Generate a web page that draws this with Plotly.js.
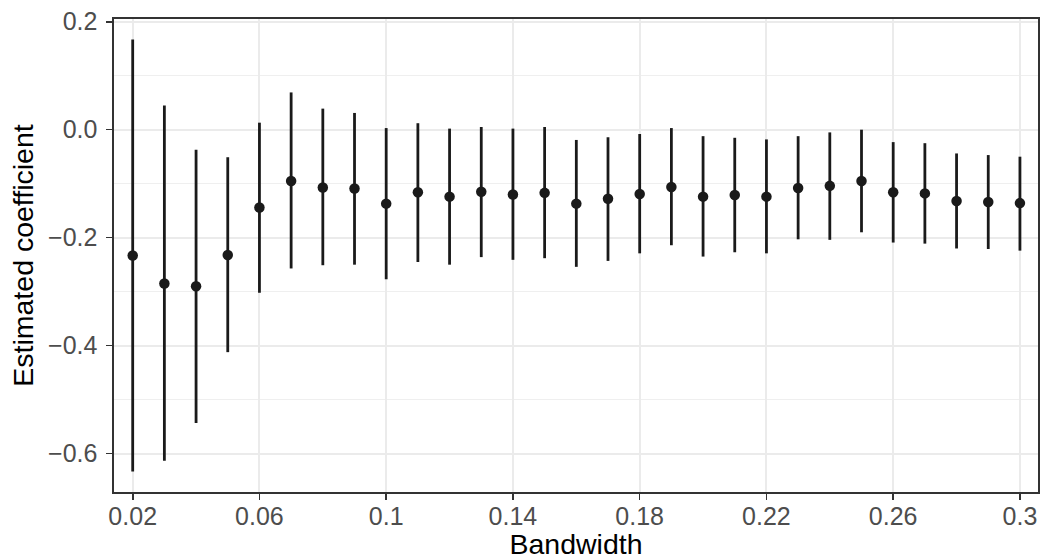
<!DOCTYPE html>
<html>
<head>
<meta charset="utf-8">
<script src="https://cdn.plot.ly/plotly-3.0.1.min.js"></script>
<style>
html,body{margin:0;padding:0;background:#fff;}
#chart{width:1042px;height:560px;}
</style>
</head>
<body>
<div id="chart"></div>
<script>
// Bandwidths (x)
const bandwidth = [0.02,0.03,0.04,0.05,0.06,0.07,0.08,0.09,0.10,0.11,0.12,0.13,0.14,0.15,0.16,0.17,0.18,0.19,0.20,0.21,0.22,0.23,0.24,0.25,0.26,0.27,0.28,0.29,0.30];
// Point estimates
const estimate = [-0.233,-0.285,-0.290,-0.232,-0.144,-0.095,-0.107,-0.109,-0.137,-0.116,-0.124,-0.115,-0.120,-0.117,-0.137,-0.128,-0.119,-0.106,-0.124,-0.121,-0.124,-0.108,-0.104,-0.095,-0.116,-0.118,-0.132,-0.134,-0.136];
// Upper confidence limits
const upper = [0.167,0.045,-0.037,-0.051,0.013,0.069,0.039,0.031,0.003,0.012,0.002,0.005,0.002,0.005,-0.019,-0.014,-0.008,0.003,-0.012,-0.015,-0.018,-0.012,-0.005,0.000,-0.023,-0.025,-0.044,-0.047,-0.050];
// Lower confidence limits
const lower = [-0.633,-0.613,-0.543,-0.412,-0.302,-0.257,-0.251,-0.250,-0.277,-0.245,-0.250,-0.236,-0.241,-0.238,-0.254,-0.243,-0.229,-0.214,-0.235,-0.227,-0.229,-0.203,-0.204,-0.190,-0.209,-0.211,-0.220,-0.221,-0.224];

const xTickVals = [0.02,0.06,0.10,0.14,0.18,0.22,0.26,0.30];
const xTickText = ["0.02","0.06","0.1","0.14","0.18","0.22","0.26","0.3"];
const yTickVals = [0.2,0.0,-0.2,-0.4,-0.6];
const yTickText = ["0.2","0.0","\u22120.2","\u22120.4","\u22120.6"];
const yMinorVals = [0.1,-0.1,-0.3,-0.5];

const errPlus = upper.map((u,i)=>u-estimate[i]);
const errMinus = lower.map((l,i)=>estimate[i]-l);

const trace = {
  type:'scatter',
  mode:'markers',
  x: bandwidth,
  y: estimate,
  marker:{color:'#1a1a1a', size:10.5},
  error_y:{type:'data', symmetric:false, array:errPlus, arrayminus:errMinus, width:0, thickness:2.8, color:'#1a1a1a'},
  hoverinfo:'skip'
};

const font = "Liberation Sans, Arial, Helvetica, sans-serif";
const layout = {
  width:1042, height:560,
  margin:{l:114, r:4, t:19, b:68, pad:0},
  paper_bgcolor:'#fff', plot_bgcolor:'#fff',
  showlegend:false,
  font:{family:font},
  xaxis:{
    range:[0.0141,0.3057],
    tickvals:xTickVals, ticktext:xTickText,
    tickfont:{size:25, color:'#4d4d4d', family:font},
    ticks:'outside', ticklen:6, tickwidth:1.6, tickcolor:'#333333',
    ticklabelstandoff:-5,
    showgrid:true, gridcolor:'#ebebeb', gridwidth:2,
    zeroline:false,
    showline:true, linecolor:'#333333', linewidth:1.6, mirror:true,
    title:{text:'Bandwidth', font:{size:28.5, color:'#000', family:font}, standoff:5},
    automargin:false
  },
  yaxis:{
    range:[-0.671,0.205],
    tickvals:yTickVals, ticktext:yTickText,
    tickfont:{size:25, color:'#4d4d4d', family:font},
    ticks:'outside', ticklen:6, tickwidth:1.6, tickcolor:'#333333',
    ticklabelstandoff:4,
    showgrid:true, gridcolor:'#ebebeb', gridwidth:2,
    minor:{tickvals:yMinorVals, showgrid:true, gridcolor:'#efefef', gridwidth:1.2, ticks:''},
    zeroline:false,
    showline:true, linecolor:'#333333', linewidth:1.6, mirror:true,
    title:{text:'Estimated coefficient', font:{size:28.5, color:'#000', family:font}, standoff:6},
    automargin:false
  }
};

Plotly.newPlot('chart',[trace],layout,{staticPlot:true, displayModeBar:false});
</script>
</body>
</html>
